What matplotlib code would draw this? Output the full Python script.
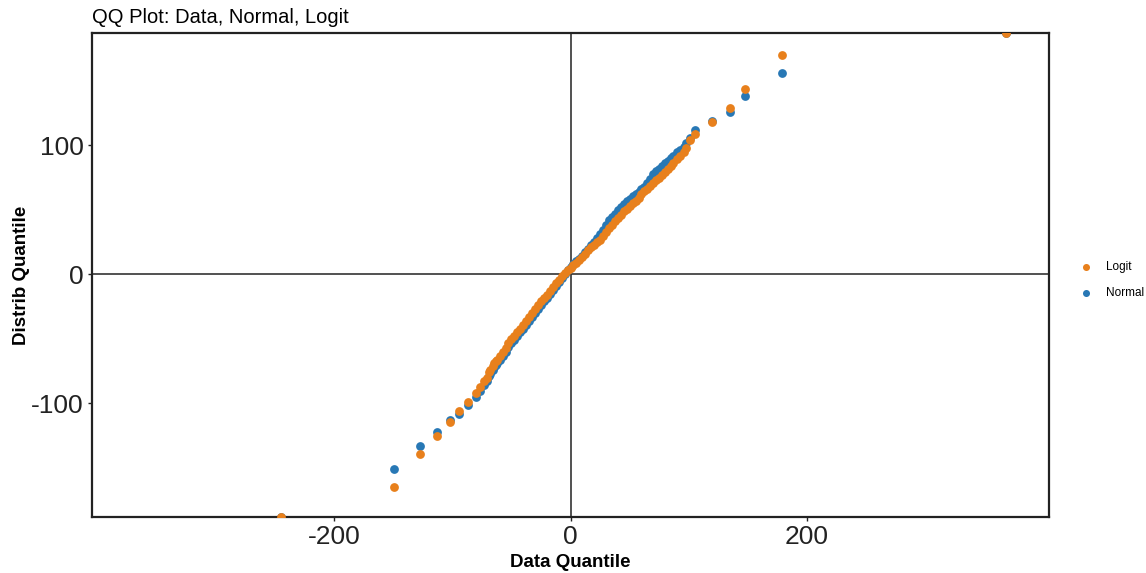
import matplotlib
matplotlib.use("Agg")
import matplotlib.pyplot as plt

plt.rcParams["font.family"] = ["Liberation Sans", "DejaVu Sans"]
plt.rcParams["axes.unicode_minus"] = False

# data quantiles (shared by both series)
data_q = [-245, -149, -127, -113, -102, -94, -87, -80, -77, -73, -71, -69, -68, -66, -65, -63,
          -62.5, -60, -57.5, -55, -52.5, -50, -47.5, -45, -42.5, -40, -37.5, -35, -32.5, -30,
          -27.5, -25, -22.5, -20, -17.5, -15, -12.5, -10, -7.5, -5, -2.5, 0, 2.5, 5, 7.5, 10,
          12.5, 15, 17.5, 20, 22.5, 25, 27.5, 30, 32.5, 35, 37.5, 40, 42.5, 45, 47.5, 50, 52.5,
          55, 57.5, 60, 62.5, 65, 67.5, 70, 72.5, 75, 77.5, 80, 82.5, 85, 87, 90, 93, 96, 98,
          101, 105.5, 120, 135, 148, 179, 368]

# logit distribution quantiles
logit_q = [-188, -165, -139.5, -125, -114, -105.5, -98.5, -92, -87, -83, -80, -76, -74, -71, -69, -67,
           -66, -63, -60, -57, -53, -50, -48, -45, -42, -39, -36, -33, -30, -27,
           -24, -21, -18.5, -16, -13, -10, -7, -4, -1, 1, 3, 5, 7, 9, 11, 13.5,
           16, 18.5, 21, 23, 25, 27, 30, 33, 36, 38.5, 41, 43.5, 46, 49, 51, 53, 55,
           57, 59.5, 62, 64.5, 66.5, 68.5, 71, 73, 75, 77, 79, 81.5, 84, 86, 89, 92, 95, 98,
           104, 109, 118, 128.7, 144, 170, 187]

# normal distribution quantiles
normal_q = [-188, -151, -133, -122, -113, -108, -101, -95, -90, -86, -83, -79, -77, -74, -72, -70,
            -69, -66, -63, -60, -56, -53, -51, -48, -45, -42, -39, -36, -33, -30,
            -27, -24, -21, -18.5, -15.5, -12, -9, -6, -2.5, 0, 3, 5.5, 8, 10, 12, 14.5,
            17, 19.5, 22.5, 25, 28, 31, 34, 38, 42, 44.5, 47, 49.5, 52, 54.5, 56.5, 58.5, 60.5,
            62, 64, 66, 68, 70.5, 74, 78, 80, 82, 84, 86, 88, 90, 92, 94.5, 96.5, 99, 101.5,
            105.5, 112, 119, 126, 138, 156, 187]

fig = plt.figure(figsize=(11.46, 5.73), dpi=100)
ax = fig.add_axes([0.0803, 0.0977, 0.8351, 0.8447])

ax.axhline(0, color="#333333", lw=1.2, zorder=1)
ax.axvline(0, color="#333333", lw=1.2, zorder=1)

ax.scatter(data_q, normal_q, s=40, color="#2878B5", label="Normal", zorder=2, linewidths=0)
ax.scatter(data_q, logit_q, s=40, color="#E8801C", label="Logit", zorder=3, linewidths=0)

lim_x = 1.1 * max(abs(v) for v in data_q)
ax.set_xlim(-lim_x, lim_x)
ax.set_ylim(min(logit_q), max(logit_q))

ax.set_xticks([-200, 0, 200])
ax.set_yticks([-100, 0, 100])
ax.tick_params(labelsize=19, length=3, width=1, colors="#222222", pad=3)
for sp in ax.spines.values():
    sp.set_color("#222222")
    sp.set_linewidth(1.6)

ax.set_xlabel("Data Quantile", fontsize=13.5, fontweight="bold", labelpad=3)
ax.set_ylabel("Distrib Quantile", fontsize=13.5, fontweight="bold", labelpad=1)
ax.set_title("QQ Plot: Data, Normal, Logit", loc="left", fontsize=14.5, pad=7)

handles, labels = ax.get_legend_handles_labels()
ax.legend(handles[::-1], labels[::-1], loc="center left", bbox_to_anchor=(1.015, 0.49),
          frameon=False, fontsize=8.5, markerscale=0.8, handletextpad=0.7, labelspacing=1.2)

fig.savefig("out.png", dpi=100)
